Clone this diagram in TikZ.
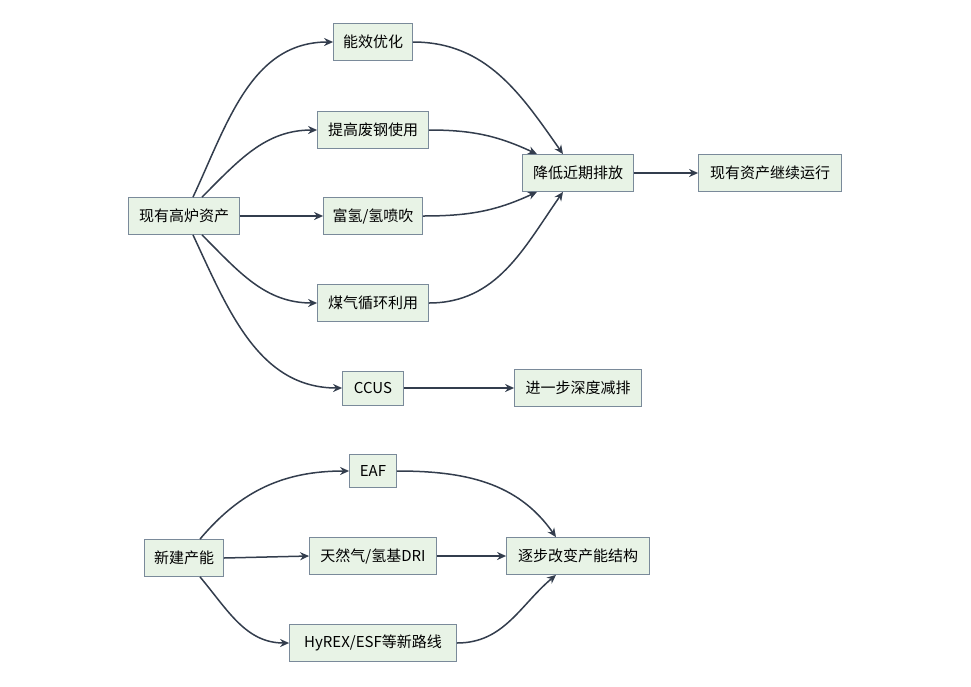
\documentclass[tikz,border=0pt]{standalone}
\usepackage{fontspec}
\setmainfont{Liberation Sans}
\newfontfamily\cjk{Noto Sans CJK SC}
\usetikzlibrary{calc,arrows.meta}
\definecolor{boxfill}{HTML}{E8F3E6}
\definecolor{boxline}{HTML}{7A8A9A}
\definecolor{edge}{HTML}{333D4D}
\begin{document}
\begin{tikzpicture}[x=1pt,y=1pt,
  box/.style={draw=boxline,fill=boxfill,line width=0.8pt,inner sep=0pt,minimum height=37pt,font=\cjk\fontsize{15}{18}\selectfont},
  ar/.style={draw=edge,line width=1.5pt,-{Stealth[length=9pt,width=8pt]}}]
\useasboundingbox (0,0) rectangle (971,-686);
\node[box,minimum width=79pt] (n1) at (373,-42) {能效优化};
\node[box,minimum width=111pt] (n2) at (373,-130) {提高废钢使用};
\node[box,minimum width=111pt] (r) at (578,-173) {降低近期排放};
\node[box,minimum width=143pt] (k) at (770,-173) {现有资产继续运行};
\node[box,minimum width=111pt] (a) at (184,-216) {现有高炉资产};
\node[box,minimum width=99pt] (n3) at (373,-216) {富氢/氢喷吹};
\node[box,minimum width=111pt] (n4) at (373,-303) {煤气循环利用};
\node[box,minimum width=61pt,minimum height=34pt] (c) at (373,-388) {CCUS};
\node[box,minimum width=127pt] (d) at (578,-388) {进一步深度减排};
\node[box,minimum width=47pt,minimum height=33pt] (e) at (373,-471) {EAF};
\node[box,minimum width=79pt] (b) at (184,-558) {新建产能};
\node[box,minimum width=127pt] (f) at (373,-556) {天然气/氢基DRI};
\node[box,minimum width=143pt] (g) at (578,-556) {逐步改变产能结构};
\node[box,minimum width=167pt] (h) at (373,-643) {HyREX/ESF等新路线};

\draw[ar] ($(a.north)+(9,0)$) to[out=65,in=180] (n1.west);
\draw[ar] ($(a.north)+(18,0)$) to[out=45,in=180] (n2.west);
\draw[ar] (a.east) -- (n3.west);
\draw[ar] ($(a.south)+(18,0)$) to[out=-45,in=180] (n4.west);
\draw[ar] ($(a.south)+(9,0)$) to[out=-65,in=180] (c.west);
\draw[ar] (n1.east) to[out=0,in=125] ($(r.north)+(-15,0)$);
\draw[ar] (n2.east) to[out=0,in=155] ($(r.north)+(-41,0)$);
\draw[ar] (n3.east) to[out=0,in=205] ($(r.south)+(-41,0)$);
\draw[ar] (n4.east) to[out=0,in=235] ($(r.south)+(-15,0)$);
\draw[ar] (r.east) -- (k.west);
\draw[ar] (c.east) -- (d.west);
\draw[ar] ($(b.north)+(16,0)$) to[out=50,in=180] (e.west);
\draw[ar] (b.east) -- (f.west);
\draw[ar] ($(b.south)+(16,0)$) to[out=-50,in=180] (h.west);
\draw[ar] (e.east) to[out=0,in=125] ($(g.north)+(-22,0)$);
\draw[ar] (f.east) -- (g.west);
\draw[ar] (h.east) to[out=0,in=220] ($(g.south)+(-22,0)$);
\end{tikzpicture}
\end{document}
